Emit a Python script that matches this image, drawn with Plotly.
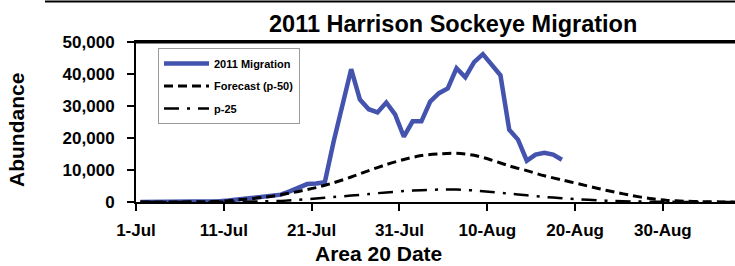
import pandas as pd
import plotly.graph_objects as go

# ---------------- data ----------------
# 2011 Migration: daily abundance, 1-Jul .. 18-Aug
mig_start = "2011-07-01"
mig_values = [
    0, 0, 0, 0, 0, 0, 0, 0,            # Jul 1-8
    100, 250, 450, 700, 1000, 1300,    # Jul 9-14
    1600, 1900, 2300, 3300, 4500,      # Jul 15-19
    5600, 5800, 6200, 18800, 30300,    # Jul 20-24
    41500, 32000, 29000, 28000, 31100, # Jul 25-29
    27400, 20400,                      # Jul 30-31
    25200, 25200, 31400, 34000, 35500, # Aug 1-5
    41800, 39000, 43700, 46200, 43100, # Aug 6-10
    39600, 22600, 19500, 12900, 14800, # Aug 11-15
    15400, 14800, 13200,               # Aug 16-18
]

# Forecast (p-50), every second day
p50_dates = [
    "2011-07-01", "2011-07-05", "2011-07-07", "2011-07-09", "2011-07-11",
    "2011-07-13", "2011-07-15", "2011-07-17", "2011-07-19", "2011-07-21",
    "2011-07-23", "2011-07-25", "2011-07-27", "2011-07-29", "2011-07-31",
    "2011-08-02", "2011-08-04", "2011-08-06", "2011-08-08", "2011-08-10",
    "2011-08-12", "2011-08-14", "2011-08-16", "2011-08-18", "2011-08-20",
    "2011-08-22", "2011-08-24", "2011-08-26", "2011-08-28", "2011-08-30",
    "2011-09-01", "2011-09-03", "2011-09-05", "2011-09-08",
]
p50_values = [
    0, 20, 60, 150, 400,
    900, 1450, 2250, 3300, 4500,
    6000, 7800, 9800, 11700, 13300,
    14500, 15000, 15200, 14600, 13100,
    11300, 9800, 8200, 6900, 5600,
    4300, 3100, 2000, 1100, 500,
    250, 100, 30, 0,
]

# p-25
p25_dates = [
    "2011-07-01", "2011-07-09", "2011-07-13", "2011-07-15", "2011-07-17",
    "2011-07-19", "2011-07-21", "2011-07-23", "2011-07-25", "2011-07-27",
    "2011-07-29", "2011-07-31", "2011-08-02", "2011-08-04", "2011-08-06",
    "2011-08-08", "2011-08-10", "2011-08-12", "2011-08-14", "2011-08-16",
    "2011-08-18", "2011-08-20", "2011-08-22", "2011-08-24", "2011-08-26",
    "2011-08-28", "2011-08-30", "2011-09-03", "2011-09-08",
]
p25_values = [
    0, 20, 100, 180, 350,
    700, 1100, 1550, 2000, 2500,
    3000, 3400, 3700, 3900, 3900,
    3600, 3100, 2600, 2100, 1600,
    1200, 850, 550, 300, 180,
    100, 50, 10, 0,
]

x_tick_vals = ["2011-07-01", "2011-07-11", "2011-07-21", "2011-07-31",
               "2011-08-10", "2011-08-20", "2011-08-30"]
x_tick_text = ["1-Jul", "11-Jul", "21-Jul", "31-Jul", "10-Aug", "20-Aug", "30-Aug"]
y_tick_vals = [0, 10000, 20000, 30000, 40000, 50000]

# Excel plots daily values in the middle of each day (between tick marks)
half_day = pd.Timedelta(hours=12)
mig_dates = pd.date_range(mig_start, periods=len(mig_values), freq="D") + half_day
p50_x = pd.to_datetime(p50_dates) + half_day
p25_x = pd.to_datetime(p25_dates) + half_day

FONT = "Liberation Sans, Arial, sans-serif"

fig = go.Figure()
fig.add_trace(go.Scatter(
    x=mig_dates, y=mig_values, mode="lines", name="2011 Migration",
    line=dict(color="#4353AE", width=4.5), legendgroup="a",
))
fig.add_trace(go.Scatter(
    x=p50_x, y=p50_values, mode="lines", name="Forecast (p-50)",
    line=dict(color="black", width=3, dash="9px,5px", shape="spline", smoothing=0.8),
    legendgroup="b",
))
fig.add_trace(go.Scatter(
    x=p25_x, y=p25_values, mode="lines", name="p-25",
    line=dict(color="black", width=2.5, dash="15px,8px,3px,8px", shape="spline", smoothing=0.8),
    legendgroup="c",
))

L, T, B, W, H = 136, 42, 64, 735, 266
pw = W - L
ph = H - T - B

def px_x(x):
    return (x - L) / pw

def px_y(y):
    return (H - B - y) / ph

fig.update_layout(
    width=W, height=H,
    margin=dict(l=L, r=0, t=T, b=B, pad=0),
    paper_bgcolor="white", plot_bgcolor="white",
    font=dict(family=FONT, color="black"),
    showlegend=True,
    legend=dict(
        x=px_x(158), y=px_y(48), xanchor="left", yanchor="top",
        bgcolor="white", bordercolor="#9a9a9a", borderwidth=1,
        font=dict(size=11, family=FONT, color="black", weight="bold"),
        itemwidth=45, tracegroupgap=3.5, traceorder="grouped",
    ),
    xaxis=dict(
        type="date",
        range=["2011-07-01", "2011-09-07 05:00"],
        tickvals=x_tick_vals, ticktext=x_tick_text,
        ticks="outside", ticklen=7, tickwidth=2, tickcolor="black",
        showline=True, linecolor="black", linewidth=2, mirror=True,
        showgrid=False, zeroline=False,
        tickfont=dict(size=17, family=FONT, weight="bold"),
        ticklabelstandoff=5,
    ),
    yaxis=dict(
        range=[0, 50000],
        tickvals=y_tick_vals, tickformat=",d",
        ticks="outside", ticklen=7, tickwidth=2, tickcolor="black",
        showline=True, linecolor="black", linewidth=2,
        showgrid=False, zeroline=False,
        tickfont=dict(size=17, family=FONT, weight="bold"),
        ticklabelstandoff=9,
    ),
    annotations=[
        dict(text="2011 Harrison Sockeye Migration", xref="paper", yref="paper",
             x=px_x(453), y=px_y(24), xanchor="center", yanchor="middle",
             showarrow=False, font=dict(size=23.5, family=FONT, weight="bold")),
        dict(text="Area 20 Date", xref="paper", yref="paper",
             x=px_x(378), y=px_y(253), xanchor="center", yanchor="middle",
             showarrow=False, font=dict(size=21, family=FONT, weight="bold")),
        dict(text="Abundance", xref="paper", yref="paper", textangle=-90,
             x=px_x(16), y=px_y(130), xanchor="center", yanchor="middle",
             showarrow=False, font=dict(size=21, family=FONT, weight="bold")),
    ],
    shapes=[
        dict(type="line", xref="paper", yref="paper",
             x0=px_x(45), x1=1.0, y0=px_y(1.5), y1=px_y(1.5),
             line=dict(color="black", width=2)),
        dict(type="line", xref="paper", yref="paper",
             x0=0, x1=1.0, y0=1.0, y1=1.0,
             line=dict(color="black", width=3)),
    ],
)

fig.write_html("out.html", config={"displayModeBar": False},
               post_script="document.body.style.margin='0';")
